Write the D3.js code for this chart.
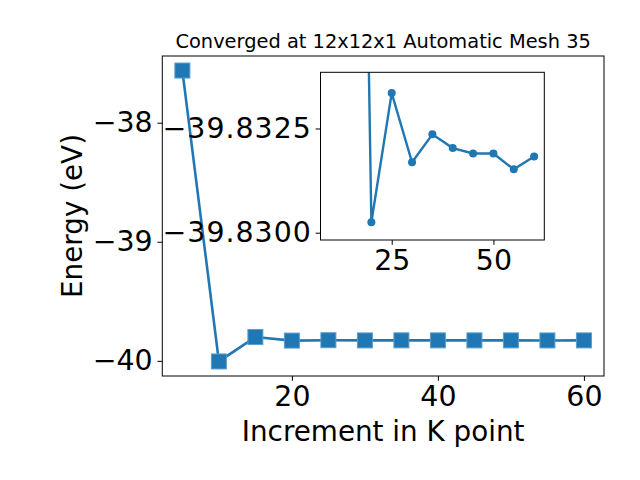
<!DOCTYPE html>
<html>
<head>
<meta charset="utf-8">
<script src="https://cdn.jsdelivr.net/npm/d3@7"></script>
<style>
  html, body { margin: 0; padding: 0; background: #fff; }
  svg text { font-family: "DejaVu Sans", sans-serif; fill: #000; }
</style>
</head>
<body>
<svg id="chart" width="640" height="480"></svg>
<script>
// ---- data ----
const kPoints = [5, 10, 15, 20, 25, 30, 35, 40, 45, 50, 55, 60];
const energies = [-37.562, -40.005, -39.800, -39.82975, -39.82665, -39.82831,
                  -39.82764, -39.82797, -39.8281, -39.8281, -39.82848, -39.82817];
const insetKPoints = [15, 20, 25, 30, 35, 40, 45, 50, 55, 60];
const mainYTicks = [-40, -39, -38];
const mainXTicks = [20, 40, 60];
const insetXTicks = [25, 50];
const insetXLimits = [7.5, 62.5];
const insetYTickValues = [-39.8300, -39.8275];
const insetYTickLabels = ["−39.8300", "−39.8325"];
const insetYLimits = [-39.830175, -39.826152];
const titleText = "Converged at 12x12x1 Automatic Mesh 35";
const xLabel = "Increment in K point";
const yLabel = "Energy (eV)";

const color = "#1f77b4";
const svg = d3.select("#chart");
const tickFont = "28.4px";

// ---- main axes ----
const M = { left: 162.3, top: 56, width: 441.7, height: 320 };
function padExtent(arr) {
  const [a, b] = d3.extent(arr);
  const m = (b - a) * 0.05;
  return [a - m, b + m];
}
const x = d3.scaleLinear().domain(padExtent(kPoints)).range([M.left, M.left + M.width]);
const y = d3.scaleLinear().domain(padExtent(energies)).range([M.top + M.height, M.top]);

const tick = 4.86, pad = 4.86;

const gx = svg.append("g").attr("transform", `translate(0,${M.top + M.height})`)
  .call(d3.axisBottom(x).tickValues(mainXTicks).tickSize(tick).tickPadding(pad).tickFormat(d3.format("d")));
gx.select(".domain").remove();
gx.selectAll("text").style("font-size", tickFont);

const gy = svg.append("g").attr("transform", `translate(${M.left},0)`)
  .call(d3.axisLeft(y).tickValues(mainYTicks).tickSize(tick).tickPadding(pad).tickFormat(d3.format("d")));
gy.select(".domain").remove();
gy.selectAll("text").style("font-size", tickFont);

const data = kPoints.map((k, i) => ({ k, e: energies[i] }));

svg.append("path").datum(data)
  .attr("fill", "none").attr("stroke", color).attr("stroke-width", 2.6)
  .attr("d", d3.line().x(d => x(d.k)).y(d => y(d.e)));

svg.selectAll("rect.mk").data(data).enter().append("rect")
  .attr("class", "mk")
  .attr("x", d => x(d.k) - 7.5).attr("y", d => y(d.e) - 7.5)
  .attr("width", 15).attr("height", 15)
  .attr("fill", color).attr("stroke", "#5b9ccb").attr("stroke-width", 1);

svg.append("rect").attr("x", M.left).attr("y", M.top)
  .attr("width", M.width).attr("height", M.height)
  .attr("fill", "none").attr("stroke", "#000").attr("stroke-width", 1);

svg.append("text").attr("x", M.left + M.width / 2).attr("y", 48)
  .attr("text-anchor", "middle").style("font-size", "19.4px").text(titleText);

svg.append("text").attr("x", M.left + M.width / 2).attr("y", 441)
  .attr("text-anchor", "middle").style("font-size", "27.8px").text(xLabel);

svg.append("text").attr("transform", `translate(82,${M.top + M.height / 2}) rotate(-90)`)
  .attr("text-anchor", "middle").style("font-size", "27.8px").text(yLabel);

// ---- inset ----
const I = { left: 320.5, top: 72.3, width: 223.8, height: 167.7 };
const ix = d3.scaleLinear().domain(insetXLimits).range([I.left, I.left + I.width]);
const iy = d3.scaleLinear().domain(insetYLimits).range([I.top + I.height, I.top]);

svg.append("rect").attr("x", I.left).attr("y", I.top)
  .attr("width", I.width).attr("height", I.height).attr("fill", "#fff");

const igx = svg.append("g").attr("transform", `translate(0,${I.top + I.height})`)
  .call(d3.axisBottom(ix).tickValues(insetXTicks).tickSize(tick).tickPadding(pad).tickFormat(d3.format("d")));
igx.select(".domain").remove();
igx.selectAll("text").style("font-size", tickFont);

const igy = svg.append("g").attr("transform", `translate(${I.left},0)`)
  .call(d3.axisLeft(iy).tickValues(insetYTickValues).tickSize(tick).tickPadding(pad - 1)
    .tickFormat((d, i) => insetYTickLabels[i]));
igy.select(".domain").remove();
igy.selectAll("text").style("font-size", tickFont).style("letter-spacing", "1px");
svg.selectAll(".tick line").attr("stroke", "#000").attr("stroke-width", 1);

svg.append("clipPath").attr("id", "insetClip").append("rect")
  .attr("x", I.left).attr("y", I.top).attr("width", I.width).attr("height", I.height);

const insetData = data.filter(d => insetKPoints.includes(d.k));
const ig = svg.append("g").attr("clip-path", "url(#insetClip)");
ig.append("path").datum(insetData)
  .attr("fill", "none").attr("stroke", color).attr("stroke-width", 2.4)
  .attr("d", d3.line().x(d => ix(d.k)).y(d => iy(d.e)));
ig.selectAll("circle").data(insetData).enter().append("circle")
  .attr("cx", d => ix(d.k)).attr("cy", d => iy(d.e)).attr("r", 4)
  .attr("fill", color);

svg.append("rect").attr("x", I.left).attr("y", I.top)
  .attr("width", I.width).attr("height", I.height)
  .attr("fill", "none").attr("stroke", "#000").attr("stroke-width", 1);
</script>
</body>
</html>
